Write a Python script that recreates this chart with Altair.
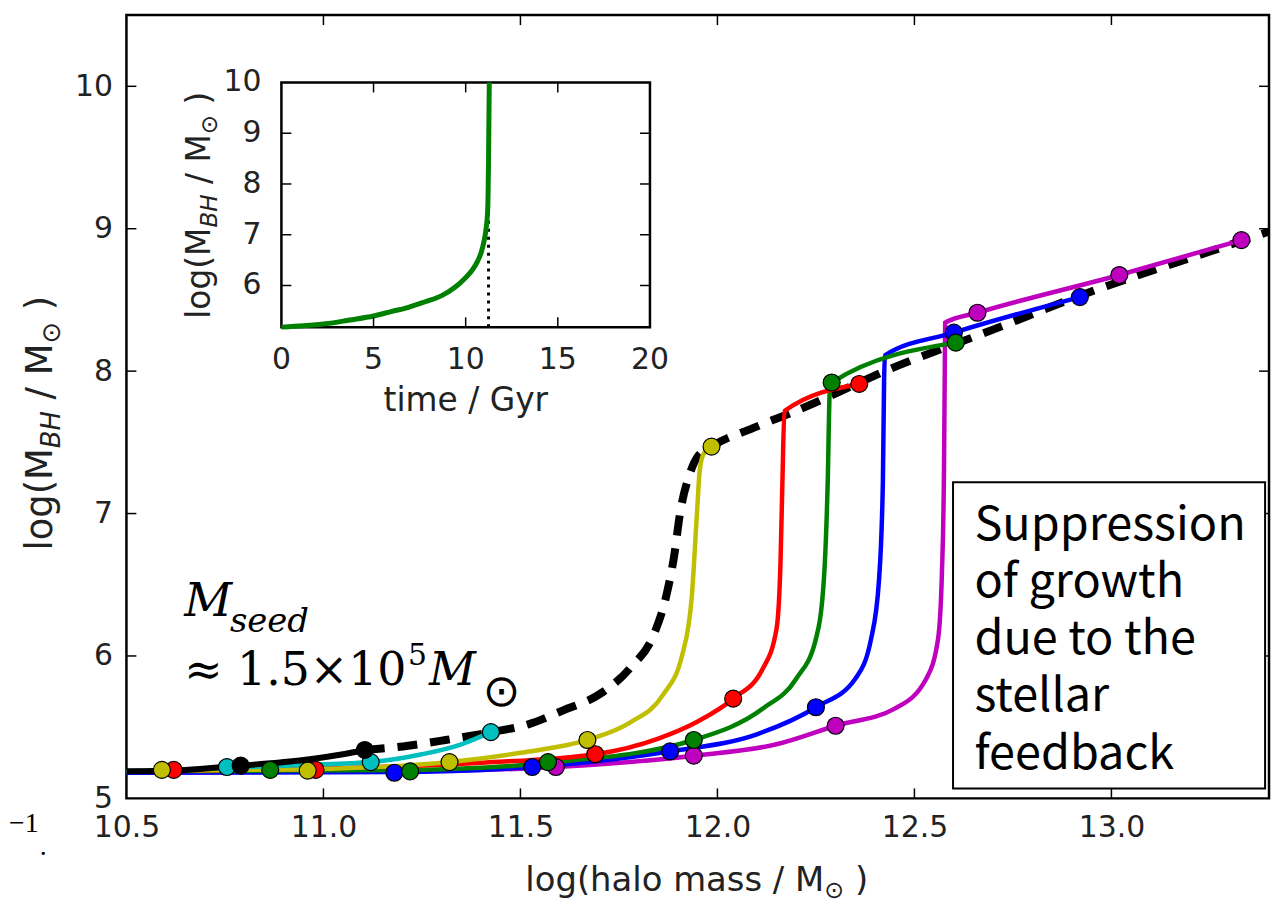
import altair as alt
import pandas as pd

# ---------------- data ----------------
# main panel: log(halo mass) on x, log(M_BH) on y
black_x = [10.50, 10.65, 10.79, 10.95, 11.05, 11.105]
black_y = [5.19, 5.20, 5.23, 5.27, 5.31, 5.34]
cyan_x = [10.50, 10.755, 10.95, 11.12, 11.25, 11.35, 11.425]
cyan_y = [5.19, 5.215, 5.235, 5.255, 5.31, 5.38, 5.465]
yellow_x = [10.50, 10.59, 10.96, 11.32, 11.50, 11.67, 11.78, 11.86, 11.91, 11.935, 11.948, 11.955, 11.965, 11.985]
yellow_y = [5.19, 5.195, 5.205, 5.255, 5.32, 5.41, 5.535, 5.72, 6.00, 6.42, 7.00, 7.30, 7.42, 7.47]
red_x = [10.50, 10.62, 11.00, 11.40, 11.69, 11.85, 11.95, 12.04, 12.115, 12.15, 12.16, 12.165, 12.17, 12.36]
red_y = [5.19, 5.195, 5.21, 5.25, 5.31, 5.42, 5.54, 5.70, 5.91, 6.19, 6.65, 7.23, 7.72, 7.91]
green_x = [10.50, 10.865, 11.22, 11.57, 11.94, 12.115, 12.20, 12.25, 12.27, 12.28, 12.285, 12.29, 12.605]
green_y = [5.19, 5.195, 5.20, 5.25, 5.41, 5.63, 5.84, 6.12, 6.53, 7.23, 7.85, 7.92, 8.20]
blue_x = [10.50, 11.18, 11.53, 11.88, 12.10, 12.25, 12.35, 12.39, 12.41, 12.42, 12.423, 12.425, 12.60, 12.92]
blue_y = [5.18, 5.185, 5.22, 5.33, 5.45, 5.64, 5.84, 6.12, 6.53, 7.23, 7.93, 8.11, 8.27, 8.52]
magenta_x = [10.50, 11.20, 11.59, 11.94, 12.15, 12.30, 12.45, 12.53, 12.56, 12.57, 12.575, 12.577, 12.578, 12.66, 13.02, 13.33]
magenta_y = [5.18, 5.19, 5.22, 5.30, 5.38, 5.51, 5.63, 5.84, 6.12, 6.60, 7.30, 8.00, 8.34, 8.41, 8.675, 8.92]

# dashed "critical" curve
crit_x = [11.105, 11.215, 11.31, 11.425, 11.52, 11.61, 11.70, 11.78, 11.84, 11.87, 11.89, 11.905,
          11.93, 11.95, 11.985, 12.09, 12.19, 12.46, 12.67, 12.96, 13.25, 13.40]
crit_y = [5.34, 5.37, 5.41, 5.465, 5.52, 5.62, 5.73, 5.92, 6.16, 6.42, 6.70, 7.00,
          7.28, 7.40, 7.47, 7.60, 7.71, 8.04, 8.26, 8.57, 8.84, 8.98]

# circle markers on each track
black_dx, black_dy = [10.79, 11.105], [5.23, 5.34]
cyan_dx, cyan_dy = [10.755, 11.12, 11.425], [5.22, 5.255, 5.465]
yellow_dx, yellow_dy = [10.59, 10.96, 11.32, 11.67, 11.985], [5.20, 5.195, 5.255, 5.41, 7.47]
red_dx, red_dy = [10.62, 10.98, 11.69, 12.04, 12.36], [5.20, 5.20, 5.31, 5.70, 7.91]
green_dx, green_dy = [10.865, 11.22, 11.57, 11.94, 12.29, 12.605], [5.20, 5.19, 5.255, 5.41, 7.92, 8.20]
blue_dx, blue_dy = [11.18, 11.53, 11.88, 12.25, 12.60, 12.92], [5.18, 5.22, 5.33, 5.64, 8.27, 8.52]
magenta_dx, magenta_dy = [11.59, 11.94, 12.30, 12.66, 13.02, 13.33], [5.22, 5.30, 5.51, 8.41, 8.675, 8.92]

series_names = ["magenta", "blue", "green", "red", "yellow", "cyan", "black"]
series_colors = ["#bf00bf", "#0000ff", "#008000", "#ff0000", "#bfbf00", "#00bfbf", "#000000"]

# inset: time (Gyr) vs log(M_BH)
inset_t = [0.0, 1.2, 2.4, 3.7, 5.0, 6.0, 6.9, 7.8, 8.7, 9.4, 9.9, 10.35, 10.65, 10.85, 11.0, 11.1, 11.19, 11.22, 11.24, 11.28]
inset_m = [5.18, 5.205, 5.245, 5.32, 5.40, 5.49, 5.57, 5.68, 5.80, 5.96, 6.12, 6.30, 6.48, 6.66, 6.88, 7.10, 7.46, 7.90, 8.44, 10.0]
inset_tfinal = [11.24]

main_xticks = [10.5, 11.0, 11.5, 12.0, 12.5, 13.0]
main_yticks = [5, 6, 7, 8, 9, 10]
inset_xticks = [0, 5, 10, 15, 20]
inset_yticks = [6, 7, 8, 9, 10]
box_lines = ["Suppression", "of growth", "due to the", "stellar", "feedback"]

# ---------------- layout ----------------
W, H = 1148, 787
PAD = {"left": 119, "top": 5, "right": 4, "bottom": 106}
INS_L, INS_R, INS_T, INS_B = 155.7, 526.0, 67.7, 313.7
TXT = "#222222"

xscale = alt.Scale(domain=[10.5, 13.4], nice=False, zero=False)
yscale = alt.Scale(domain=[5.0, 10.5], nice=False, zero=False)
xaxis = alt.Axis(values=main_xticks, format=".1f", title=None, domain=False, ticks=False,
                 grid=False, labelFlush=False, labelPadding=14, labelFontSize=30,
                 labelFont="DejaVu Sans", labelColor=TXT)
yaxis = alt.Axis(values=main_yticks, format="d", title=None, domain=False, ticks=False,
                 grid=False, labelFlush=False, labelPadding=14, labelFontSize=30,
                 labelFont="DejaVu Sans", labelColor=TXT)


def X(f):
    return alt.X(f, type="quantitative", scale=xscale, axis=xaxis)


def Y(f):
    return alt.Y(f, type="quantitative", scale=yscale, axis=yaxis)


ONE = pd.DataFrame({"a": [0]})

tracks = {
    "black": (black_x, black_y), "cyan": (cyan_x, cyan_y), "yellow": (yellow_x, yellow_y),
    "red": (red_x, red_y), "green": (green_x, green_y), "blue": (blue_x, blue_y),
    "magenta": (magenta_x, magenta_y),
}
dots = {
    "black": (black_dx, black_dy), "cyan": (cyan_dx, cyan_dy), "yellow": (yellow_dx, yellow_dy),
    "red": (red_dx, red_dy), "green": (green_dx, green_dy), "blue": (blue_dx, blue_dy),
    "magenta": (magenta_dx, magenta_dy),
}
cmap = dict(zip(series_names, series_colors))

main_layers = []
crit_df = pd.DataFrame({"x": crit_x, "y": crit_y, "i": range(len(crit_x))})
main_layers.append(
    alt.Chart(crit_df).mark_line(color="black", strokeWidth=8, strokeDash=[20, 13], interpolate="monotone")
    .encode(x=X("x"), y=Y("y"), order="i:Q")
)
for name in series_names:
    xs, ys = tracks[name]
    df = pd.DataFrame({"x": xs, "y": ys, "i": range(len(xs))})
    sw = 6 if name == "black" else 4.5
    main_layers.append(
        alt.Chart(df).mark_line(color=cmap[name], strokeWidth=sw, interpolate="monotone")
        .encode(x=X("x"), y=Y("y"), order="i:Q")
    )
rows = []
for name in series_names:
    xs, ys = dots[name]
    for a, b in zip(xs, ys):
        rows.append({"series": name, "x": a, "y": b})
dots_df = pd.DataFrame(rows)
dots_df["k"] = range(len(dots_df))
main_layers.append(
    alt.Chart(dots_df).mark_circle(size=290, stroke="black", strokeWidth=1.2, opacity=1)
    .encode(x=X("x"), y=Y("y"), order="k:Q",
            fill=alt.Fill("series:N", scale=alt.Scale(domain=series_names, range=series_colors),
                          legend=None))
)

# inward ticks on the main frame
xt = pd.DataFrame({"v": main_xticks[1:]})
yt = pd.DataFrame({"v": main_yticks[1:]})
main_layers += [
    alt.Chart(xt).mark_rule(color="black", strokeWidth=1.5).encode(x=X("v"), y=alt.value(H), y2=alt.value(H - 10)),
    alt.Chart(xt).mark_rule(color="black", strokeWidth=1.5).encode(x=X("v"), y=alt.value(0), y2=alt.value(10)),
    alt.Chart(yt).mark_rule(color="black", strokeWidth=1.5).encode(y=Y("v"), x=alt.value(0), x2=alt.value(10)),
    alt.Chart(yt).mark_rule(color="black", strokeWidth=1.5).encode(y=Y("v"), x=alt.value(W - 10), x2=alt.value(W)),
]

# annotation box
box_df = pd.DataFrame({"x0": [12.598], "x1": [13.39], "y0": [5.07], "y1": [7.22]})
main_layers.append(
    alt.Chart(box_df).mark_rect(fill="white", stroke="black", strokeWidth=2)
    .encode(x=X("x0"), x2="x1", y=Y("y0"), y2="y1")
)
main_layers.append(
    alt.Chart(ONE).mark_text(text=box_lines, font="Noto Sans CJK JP", fontSize=47, lineHeight=57.5,
                             align="left", baseline="alphabetic", color="black")
    .encode(x=alt.value(852), y=alt.value(527))
)


def piece(t, x, y, size, font="DejaVu Serif", style="normal", angle=0, align="left", color="black"):
    return alt.Chart(ONE).mark_text(text=t, font=font, fontSize=size, fontStyle=style, angle=angle,
                                    align=align, baseline="alphabetic", color=color
                                    ).encode(x=alt.value(x), y=alt.value(y))


# M_seed annotation (page coords minus view origin 127,13)
OX, OY = 127, 13
main_layers += [
    piece("M", 185 - OX, 617 - OY, 47, style="italic"),
    piece("seed", 231 - OX, 633 - OY, 34, style="italic"),
    piece("\u2248 1.5\u00d710", 185 - OX, 686 - OY, 46),
    piece("5", 410 - OX, 666 - OY, 30),
    piece("M", 431 - OX, 686 - OY, 46, style="italic"),
    piece("\u2299", 485 - OX, 707 - OY, 45, font="DejaVu Sans"),
    piece("\u22121", 9 - OX, 834 - OY, 28, font="Liberation Serif"),
    piece(".", 40 - OX, 857 - OY, 28, font="Liberation Serif"),
]

# axis titles made of pieces (sub-scripts)
DV = {" ": 0.318, "(": 0.390, ")": 0.390, "/": 0.337, "l": 0.278, "o": 0.612, "g": 0.635,
      "M": 0.863, "h": 0.634, "a": 0.613, "s": 0.521, "m": 0.974, "t": 0.392, "i": 0.278,
      "e": 0.615, "G": 0.775, "y": 0.592, "r": 0.411, "B": 0.686, "H": 0.752, "\u2299": 0.838}


def tw(s, size):
    return sum(DV.get(c, 0.6) for c in s) * size


def text_run(parts, size, center, base, rotated):
    total = sum(tw(t, size * r) for t, r, it, sh in parts)
    adv = 0.0
    out = []
    for t, r, it, sh in parts:
        fs = size * r
        lead = len(t) - len(t.lstrip(" "))
        adv += tw(" " * lead, fs)
        body = t.strip(" ")
        if rotated:
            px, py, ang = base + sh * size, center + total / 2 - adv, 270
        else:
            px, py, ang = center - total / 2 + adv, base + sh * size, 0
        out.append(piece(body, px, py, fs, font="DejaVu Sans", style="italic" if it else "normal",
                         angle=ang, color=TXT))
        adv += tw(t, fs) - tw(" " * lead, fs)
    return out


ytitle = [("log(M", 1, False, 0), ("BH", 0.7, True, 0.22), (" / M", 1, False, 0),
          ("\u2299", 0.7, False, 0.22), (" )", 1, False, 0)]
xtitle = [("log(halo mass / M", 1, False, 0), ("\u2299", 0.7, False, 0.22), (" )", 1, False, 0)]
main_layers += text_run(ytitle, 37, 423 - OY, 52 - OX, True)
main_layers += text_run(xtitle, 34, 700 - OX, 893 - OY, False)
main_layers += text_run(ytitle, 33, 204 - OY, 211 - OX, True)
main_layers.append(piece("time / Gyr", 468 - OX, 411 - OY, 33, font="DejaVu Sans", align="center", color=TXT))

main = alt.layer(*main_layers)

# ---------------- inset ----------------
xs_in = alt.Scale(domain=[0, 20], range=[INS_L, INS_R], nice=False, zero=False)
ys_in = alt.Scale(domain=[5.176, 10.0], range=[INS_B, INS_T], nice=False, zero=False)


def XI(f):
    return alt.X(f, type="quantitative", scale=xs_in, axis=None)


def YI(f):
    return alt.Y(f, type="quantitative", scale=ys_in, axis=None)


frame_df = pd.DataFrame({"t0": [0], "t1": [20], "v0": [5.176], "v1": [10.0]})
fin_df = pd.DataFrame({"t": inset_tfinal, "v0": [5.176], "v1": [10.0]})
ins_df = pd.DataFrame({"t": inset_t, "v": inset_m, "i": range(len(inset_t))})
ixt = pd.DataFrame({"v": inset_xticks, "lab": [str(v) for v in inset_xticks]})
iyt = pd.DataFrame({"v": inset_yticks, "lab": [str(v) for v in inset_yticks]})
ixt_in = ixt.iloc[1:-1]
iyt_in = iyt.iloc[:-1]

inset_layers = [
    alt.Chart(frame_df).mark_rect(fill="white", stroke="black", strokeWidth=2.5)
    .encode(x=XI("t0"), x2="t1", y=YI("v0"), y2="v1"),
    alt.Chart(fin_df).mark_rule(color="black", strokeWidth=3, strokeDash=[3, 5])
    .encode(x=XI("t"), y=YI("v0"), y2="v1"),
    alt.Chart(ins_df).mark_line(color="#008000", strokeWidth=5, interpolate="monotone")
    .encode(x=XI("t"), y=YI("v"), order="i:Q"),
    alt.Chart(ixt_in).mark_rule(color="black", strokeWidth=1.5).encode(x=XI("v"), y=alt.value(INS_B), y2=alt.value(INS_B - 10)),
    alt.Chart(ixt_in).mark_rule(color="black", strokeWidth=1.5).encode(x=XI("v"), y=alt.value(INS_T), y2=alt.value(INS_T + 10)),
    alt.Chart(iyt_in).mark_rule(color="black", strokeWidth=1.5).encode(y=YI("v"), x=alt.value(INS_L), x2=alt.value(INS_L + 10)),
    alt.Chart(iyt_in).mark_rule(color="black", strokeWidth=1.5).encode(y=YI("v"), x=alt.value(INS_R - 10), x2=alt.value(INS_R)),
    alt.Chart(ixt).mark_text(font="DejaVu Sans", fontSize=30, align="center", baseline="alphabetic", color=TXT)
    .encode(x=XI("v"), y=alt.value(INS_B + 42), text="lab:N"),
    alt.Chart(iyt).mark_text(font="DejaVu Sans", fontSize=30, align="right", baseline="middle", color=TXT)
    .encode(y=YI("v"), x=alt.value(INS_L - 20), text="lab:N"),
]
inset = alt.layer(*inset_layers)

chart = (
    alt.layer(main, inset)
    .resolve_scale(x="independent", y="independent")
    .properties(width=W, height=H, autosize=alt.AutoSizeParams(type="none"), padding=PAD,
                background="white")
    .configure_view(stroke="black", strokeWidth=2.5)
)

chart.save("out.html", embed_options={"renderer": "svg", "actions": False})
